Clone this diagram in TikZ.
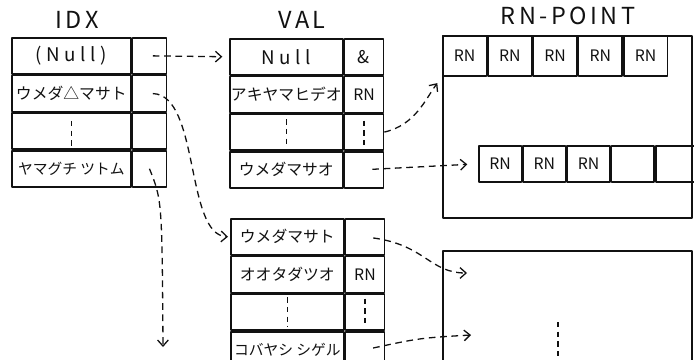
\documentclass[tikz,border=0pt]{standalone}
\usepackage{fontspec}
\setmainfont{Noto Sans CJK JP}
\usepackage{xcolor}
\usetikzlibrary{arrows.meta}
\definecolor{ink}{HTML}{111111}

\begin{document}
\begin{tikzpicture}[x=0.3mm, y=-0.3mm, line join=round,
        every node/.style={font=\fontsize{13.5}{15}\selectfont, text=ink},
        cell/.style={draw=ink, line width=1.4pt, anchor=north west,
            inner sep=1pt, minimum height=10.8mm},
        idxcell/.style={cell, minimum width=35.7mm},
        idxptr/.style={cell, minimum width=10.2mm},
        valcell/.style={cell, minimum width=33.9mm},
        valptr/.style={cell, minimum width=11.7mm},
        rncell/.style={cell, minimum width=13.08mm, minimum height=12mm},
        rnrow/.style={cell, minimum width=12.78mm},
        bigbox/.style={cell, minimum width=74.7mm},
        long/.style={font=\fontsize{12.6}{14}\selectfont, inner sep=0pt},
        big/.style={font=\fontsize{16}{18}\selectfont\addfontfeature{LetterSpace=25}},
        title/.style={font=\fontsize{20}{22}\selectfont\addfontfeature{LetterSpace=15}},
        ptr/.style={draw=ink, line width=1.1pt, dash pattern=on 2mm off 1.4mm,
            -{Straight Barb[length=1.8mm, width=3.2mm, line width=1.1pt]}},
        dots/.style={draw=ink, line width=1.1pt, dash pattern=on 1.6mm off 1.3mm}]
      \path[use as bounding box, clip] (0,0) rectangle (694,359);
      % titles
      \node[title] (IDXt) at (77,20) {IDX};
      \node[title] (VALt) at (302,20) {VAL};
      \node[title] (RNPt) at (568,16) {RN-POINT};
      % IDX table
      \node[idxcell, big] (I1) at (11,37) {(Null)};
      \node[idxptr] (I1p) at (I1.north east) {};
      \node[idxcell] (I2) at (I1.south west) {ウメダ△マサト};
      \node[idxptr] (I2p) at (I2.north east) {};
      \node[idxcell] (I3) at (I2.south west) {};
      \node[idxptr] (I3p) at (I3.north east) {};
      \node[idxcell, long] (I4) at (I3.south west) {ヤマグチ ツトム};
      \node[idxptr] (I4p) at (I4.north east) {};
      % VAL table
      \node[valcell, big] (V1) at (229,38) {Null};
      \node[valptr, font=\fontsize{15}{17}\selectfont] (V1p) at (V1.north east) {\&};
      \node[valcell] (V2) at (V1.south west) {アキヤマヒデオ};
      \node[valptr] (V2p) at (V2.north east) {RN};
      \node[valcell] (V3) at (V2.south west) {};
      \node[valptr] (V3p) at (V3.north east) {};
      \node[valcell] (V4) at (V3.south west) {ウメダマサオ};
      \node[valptr] (V4p) at (V4.north east) {};
      % second VAL block
      \node[valcell] (B1) at (230,218) {ウメダマサト};
      \node[valptr] (B1p) at (B1.north east) {};
      \node[valcell] (B2) at (B1.south west) {オオタダツオ};
      \node[valptr] (B2p) at (B2.north east) {RN};
      \node[valcell] (B3) at (B2.south west) {};
      \node[valptr] (B3p) at (B3.north east) {};
      \node[valcell, long] (B4) at (B3.south west) {コバヤシ シゲル};
      \node[valptr] (B4p) at (B4.north east) {};
      % RN-POINT areas
      \node[bigbox, minimum height=54.6mm] (RNP) at (442,35) {};
      \node[rncell] (R1) at (442,35) {RN};
      \node[rncell] (R2) at (R1.north east) {RN};
      \node[rncell] (R3) at (R2.north east) {RN};
      \node[rncell] (R4) at (R3.north east) {RN};
      \node[rncell] (R5) at (R4.north east) {RN};
      \node[rnrow] (S1) at (478,145) {RN};
      \node[rnrow] (S2) at (S1.north east) {RN};
      \node[rnrow] (S3) at (S2.north east) {RN};
      \node[rnrow] (S4) at (S3.north east) {};
      \node[rnrow] (S5) at (S4.north east) {};
      \node[bigbox, minimum height=40mm] (BOX) at (442,250) {};
      \coordinate (Idown) at (163,347);
      \coordinate (Bx1) at (467,273);
      \coordinate (Bx2) at (471,335);
      \coordinate (Bd1) at (558,322);
      \coordinate (Bd2) at (558,366);
      % continuation marks
      \draw[dots] ([yshift=-2.6mm]I3.north) -- ([yshift=1mm]I3.south);
      \draw[dots] ([yshift=-1.8mm]V3.north) -- ([yshift=1.8mm]V3.south);
      \draw[dots] ([yshift=-2.2mm]V3p.north) -- ([yshift=1mm]V3p.south);
      \draw[dots] ([yshift=-1.2mm]B3.north) -- ([yshift=1.2mm]B3.south);
      \draw[dots] ([yshift=-1.6mm]B3p.north) -- ([yshift=1.2mm]B3p.south);
      \draw[dots] (Bd1) -- (Bd2);
      % pointers
      \draw[ptr, shorten <=1mm, shorten >=2mm] (I1p.center) -- (V1.west);
      \draw[ptr, shorten <=1mm, shorten >=0.6mm] (I2p.center) .. controls (200,95) and (185,235) .. (B1.west);
      \draw[ptr] (I4p.center) .. controls (162,200) .. (Idown);
      \draw[ptr, shorten >=2.4mm] (V3p.east) .. controls (415,125) and (425,100) .. (R1.south west);
      \draw[ptr, shorten <=2.5mm, shorten >=3.2mm] (V4p.center) -- (S1.west);
      \draw[ptr, shorten <=2.5mm] (B1p.center) .. controls (425,245) and (430,273) .. (Bx1);
      \draw[ptr, shorten <=2.5mm] (B4p.center) .. controls (420,338) .. (Bx2);
    \end{tikzpicture}
\end{document}
